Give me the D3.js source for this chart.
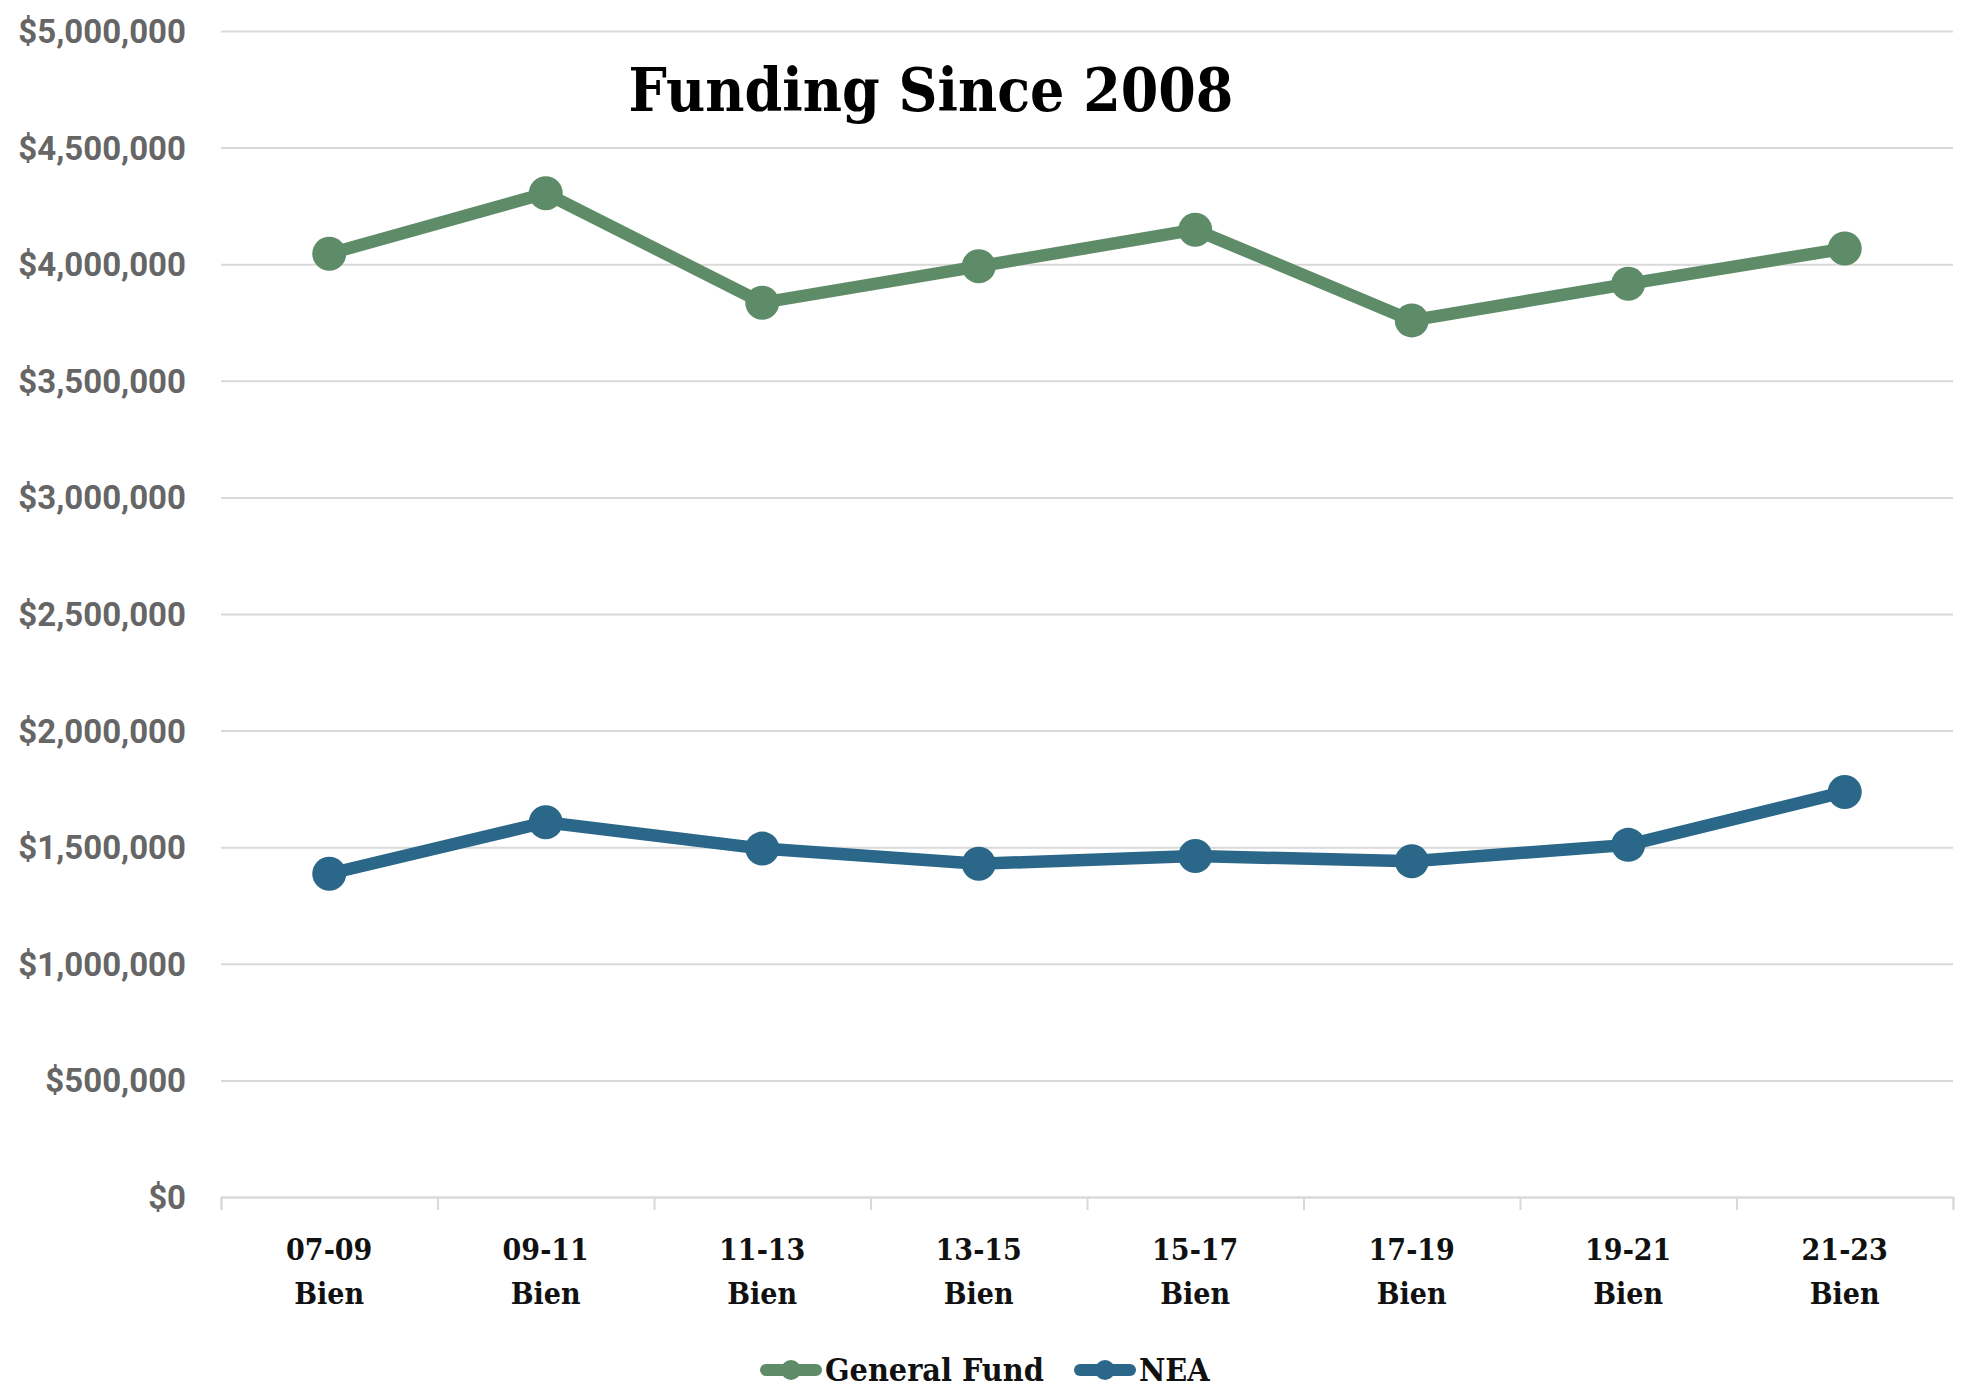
<!DOCTYPE html>
<html>
<head>
<meta charset="utf-8">
<script src="https://cdn.jsdelivr.net/npm/d3@7"></script>
<style>
  body { margin: 0; background: #fff; }
  .slab { font-family: "DejaVu Serif Condensed", "DejaVu Serif", serif; font-stretch: condensed; font-weight: bold; }
  .y-axis text { font-family: Roboto, sans-serif; font-weight: 700; fill: #666; }
</style>
</head>
<body>
<div id="chart"></div>
<script>
var biennia = ["07-09", "09-11", "11-13", "13-15", "15-17", "17-19", "19-21", "21-23"];
var generalFund = [4045000, 4304000, 3835000, 3991000, 4148000, 3759000, 3916000, 4067000];
var nea = [1386000, 1607000, 1494000, 1429000, 1462000, 1440000, 1510000, 1737000];
var yTicks = [0, 500000, 1000000, 1500000, 2000000, 2500000, 3000000, 3500000, 4000000, 4500000, 5000000];

var margin = { top: 31, left: 221, right: 19, bottom: 200 },
  width = 1972 - margin.left - margin.right,
  height = 1397 - margin.top - margin.bottom;

var svg = d3.select("#chart")
  .append("svg")
  .attr("width", 1972)
  .attr("height", 1397)
  .append("g")
  .attr("transform", "translate(" + margin.left + "," + margin.top + ")");

var x = d3.scaleBand()
  .domain(biennia)
  .range([0, width])
  .padding(0);

var xEdge = d3.scaleLinear()
  .domain([0, biennia.length])
  .range([0, width]);

var y = d3.scaleLinear()
  .domain([0, 5000000])
  .range([height, 0]);

// gridlines + y labels
var yAxis = d3.axisLeft(y)
  .tickValues(yTicks)
  .tickSize(-width)
  .tickPadding(35)
  .tickFormat(function(d) { return "$" + d3.format(",")(d); });

var yG = svg.append("g")
  .attr("class", "axis y-axis")
  .call(yAxis);
yG.select(".domain").remove();
yG.selectAll("line").attr("stroke", "#d9d9d9").attr("stroke-width", 2);
yG.selectAll("text").attr("font-size", 33).attr("dy", "0.35em");

// x axis ticks at the band edges
var xG = svg.append("g")
  .attr("class", "axis x-axis")
  .attr("transform", "translate(0," + height + ")")
  .call(d3.axisBottom(xEdge).tickValues(d3.range(biennia.length + 1)).tickSize(13).tickFormat(""));
xG.select(".domain").attr("stroke", "#d9d9d9").attr("stroke-width", 2);
xG.selectAll("line").attr("stroke", "#d9d9d9").attr("stroke-width", 2);

var xLabels = svg.append("g").attr("class", "x-labels slab");
biennia.forEach(function(b) {
  var t = xLabels.append("text")
    .attr("x", x(b) + x.bandwidth() / 2)
    .attr("y", height + 63)
    .attr("text-anchor", "middle")
    .attr("font-size", 30)
    .attr("fill", "#111");
  t.append("tspan").attr("x", x(b) + x.bandwidth() / 2).text(b);
  t.append("tspan").attr("x", x(b) + x.bandwidth() / 2).attr("dy", 44).text("Bien");
});

var series = [
  { name: "General Fund", values: generalFund, color: "#5f8c68" },
  { name: "NEA", values: nea, color: "#2a6789" }
];

var line = d3.line()
  .x(function(d, i) { return x(biennia[i]) + x.bandwidth() / 2; })
  .y(function(d) { return y(d); });

series.forEach(function(s) {
  svg.append("path")
    .datum(s.values)
    .attr("d", line)
    .attr("fill", "none")
    .attr("stroke", s.color)
    .attr("stroke-width", 12.5)
    .attr("stroke-linejoin", "round");

  svg.selectAll(".dot-" + s.name.replace(" ", ""))
    .data(s.values)
    .enter()
    .append("circle")
    .attr("cx", function(d, i) { return x(biennia[i]) + x.bandwidth() / 2; })
    .attr("cy", function(d) { return y(d); })
    .attr("r", 17)
    .attr("fill", s.color);
});

// title
svg.append("text")
  .attr("class", "slab")
  .attr("x", 931 - margin.left)
  .attr("y", 111 - margin.top)
  .attr("text-anchor", "middle")
  .attr("font-size", 60)
  .attr("fill", "#000")
  .text("Funding Since 2008");

// legend
var legend = svg.append("g")
  .attr("class", "legend slab")
  .attr("transform", "translate(" + (-margin.left) + "," + (1370 - margin.top) + ")");
var legendX = [760, 1074];
var legendTextX = [825, 1139];
series.forEach(function(s, i) {
  legend.append("line")
    .attr("x1", legendX[i] + 6)
    .attr("x2", legendX[i] + 56)
    .attr("y1", 0)
    .attr("y2", 0)
    .attr("stroke", s.color)
    .attr("stroke-width", 12)
    .attr("stroke-linecap", "round");
  legend.append("circle")
    .attr("cx", legendX[i] + 31)
    .attr("cy", 0)
    .attr("r", 10)
    .attr("fill", s.color);
  legend.append("text")
    .attr("x", legendTextX[i])
    .attr("y", 0)
    .attr("dy", "0.35em")
    .attr("font-size", 32)
    .attr("fill", "#111")
    .text(s.name);
});
</script>
</body>
</html>
